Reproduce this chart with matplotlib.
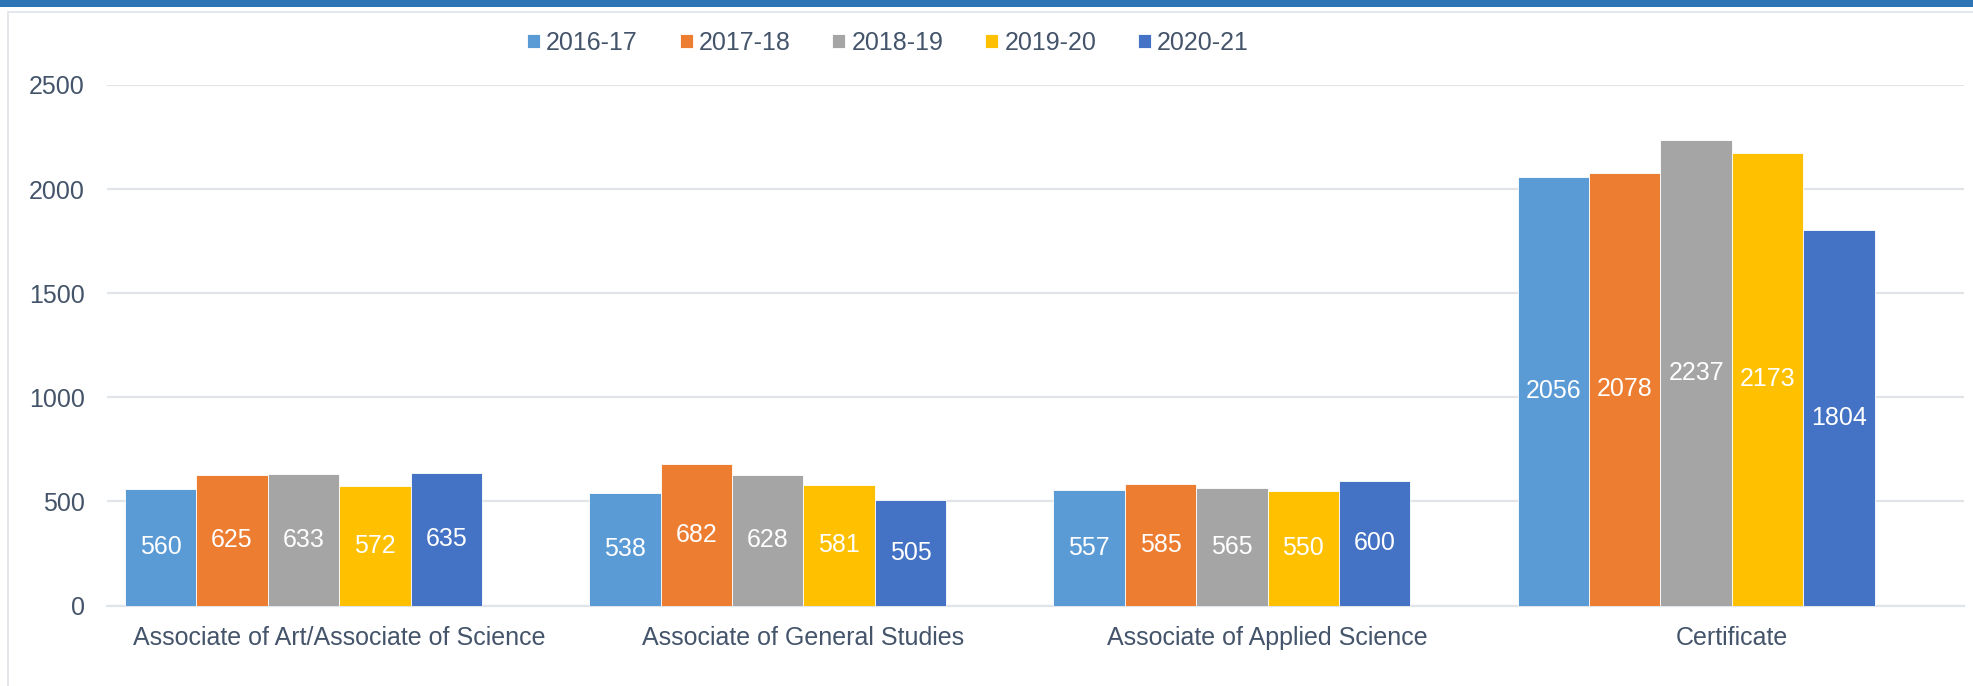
import matplotlib
matplotlib.use('Agg')
import matplotlib.pyplot as plt
import numpy as np
from matplotlib.patches import Rectangle

# degree counts by award type and year
categories = ['Associate of Art/Associate of Science', 'Associate of General Studies',
              'Associate of Applied Science', 'Certificate']
years = ['2016-17', '2017-18', '2018-19', '2019-20', '2020-21']
y2016_17 = [560, 538, 557, 2056]
y2017_18 = [625, 682, 585, 2078]
y2018_19 = [633, 628, 565, 2237]
y2019_20 = [572, 581, 550, 2173]
y2020_21 = [635, 505, 600, 1804]
y_ticks = [0, 500, 1000, 1500, 2000, 2500]

series = [y2016_17, y2017_18, y2018_19, y2019_20, y2020_21]
colors = ['#5B9BD5', '#ED7D31', '#A5A5A5', '#FFC000', '#4472C4']
text_color = '#44546A'
grid_color = '#E1E4E9'

plt.rcParams['font.family'] = ['Liberation Sans', 'DejaVu Sans']

fig = plt.figure(figsize=(19.74, 6.86), dpi=100)
ax = fig.add_axes([107/1974, 1 - 605.5/686, 1857/1974, 520.5/686])

# the source chart reserves six slots per group (one empty)
x = np.arange(len(categories))
w = 1 / 6.5
for j, (vals, col, lab) in enumerate(zip(series, colors, years)):
    bars = ax.bar(x + (j - 2.5) * w, vals, width=w, color=col, label=lab,
                  edgecolor='white', linewidth=0.6, zorder=3)
    ax.bar_label(bars, label_type='center', color='white', fontsize=18)

ax.set_xlim(-0.5, len(categories) - 0.5)
ax.set_ylim(0, 2500)
ax.set_yticks(y_ticks)
ax.set_xticks(x)
ax.set_xticklabels(categories)
ax.tick_params(axis='both', length=0, labelsize=18, colors=text_color)
ax.tick_params(axis='x', pad=15)
ax.tick_params(axis='y', pad=16)
ax.grid(axis='y', color=grid_color, linewidth=1.6, zorder=0)
for s in ['top', 'right', 'left']:
    ax.spines[s].set_visible(False)
ax.spines['bottom'].set_color(grid_color)
ax.spines['bottom'].set_linewidth(1.6)

fig.legend(loc='center', bbox_to_anchor=(888/1974, 1 - 42.5/686), ncol=5,
           frameon=False, fontsize=18, labelcolor=text_color,
           handlelength=0.52, handleheight=0.48, handletextpad=0.24,
           columnspacing=1.68, borderpad=0)

# blue strip and light frame from the source page
fig.add_artist(Rectangle((0, 1 - 7/686), 1, 7/686, transform=fig.transFigure,
                         color='#2E75B6', lw=0))
fig.add_artist(Rectangle((8/1974, 1 - 13/686), 1, 2/686, transform=fig.transFigure,
                         color='#E3E6EA', lw=0))
fig.add_artist(Rectangle((7/1974, 0), 2/1974, 1 - 11/686, transform=fig.transFigure,
                         color='#E3E6EA', lw=0))

fig.savefig('out.png', dpi=100)
